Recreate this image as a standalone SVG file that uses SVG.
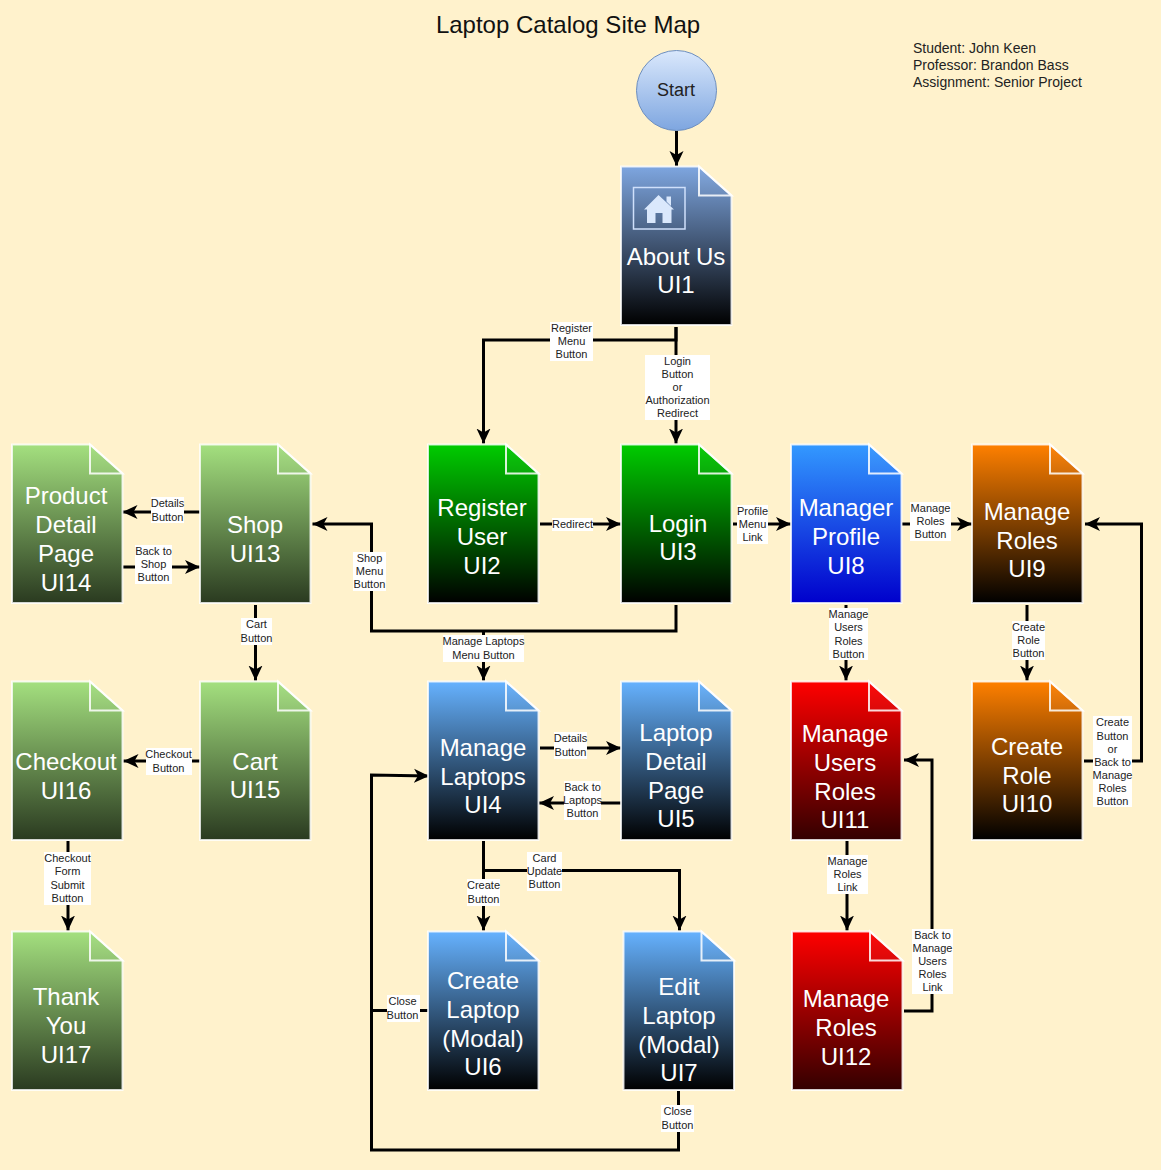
<svg xmlns="http://www.w3.org/2000/svg" width="1161" height="1170" viewBox="0 0 1161 1170">
<style>
text{font-family:"Liberation Sans",Arial,sans-serif;text-anchor:middle}
.t{fill:#fff;font-size:24px}
.l{fill:#222;font-size:11px}
.i{fill:#222;font-size:14px;text-anchor:start}
.c{fill:none;stroke:#000;stroke-width:3;stroke-linejoin:miter}
.a{marker-end:url(#ah)}
.b{fill:#fff}
.d{stroke:#fff;stroke-width:2;stroke-opacity:.8}
.f{fill:#fff;fill-opacity:.04;stroke:#fff;stroke-width:2;stroke-opacity:.85}
</style>
<defs>
<marker id="ah" markerUnits="userSpaceOnUse" markerWidth="16" markerHeight="16" refX="15" refY="8" orient="auto">
<path d="M0,1L15,8L0,15L4,8Z" fill="#000"/>
</marker>
<linearGradient id="gb" x1="0" y1="0" x2="0" y2="1"><stop offset="0" stop-color="#7ea6e0"/><stop offset="1" stop-color="#000"/></linearGradient>
<linearGradient id="gl" x1="0" y1="0" x2="0" y2="1"><stop offset="0" stop-color="#66b2ff"/><stop offset="1" stop-color="#000"/></linearGradient>
<linearGradient id="gg" x1="0" y1="0" x2="0" y2="1"><stop offset="0" stop-color="#a4e07f"/><stop offset="1" stop-color="#2a3a20"/></linearGradient>
<linearGradient id="gv" x1="0" y1="0" x2="0" y2="1"><stop offset="0" stop-color="#00cc00"/><stop offset="1" stop-color="#000"/></linearGradient>
<linearGradient id="gm" x1="0" y1="0" x2="0" y2="1"><stop offset="0" stop-color="#3399ff"/><stop offset="1" stop-color="#0000cc"/></linearGradient>
<linearGradient id="go" x1="0" y1="0" x2="0" y2="1"><stop offset="0" stop-color="#ff8000"/><stop offset="1" stop-color="#000"/></linearGradient>
<linearGradient id="gr" x1="0" y1="0" x2="0" y2="1"><stop offset="0" stop-color="#ff0000"/><stop offset="1" stop-color="#330000"/></linearGradient>
<linearGradient id="gs" x1="0" y1="0" x2="0" y2="1"><stop offset="0" stop-color="#dae8fc"/><stop offset="1" stop-color="#7ea6e0"/></linearGradient>
<path id="doc" d="M0,0H78L110.500,29V158.500H0Z"/>
<path id="fold" d="M78,0L110.500,29H78Z"/>
</defs>
<rect width="1161" height="1170" fill="#fff2cc"/>
<text x="568" y="33" style="font-size:24px" fill="#111">Laptop Catalog Site Map</text>
<g id="info">
<text class="i" x="913" y="53">Student: John Keen</text>
<text class="i" x="913" y="70">Professor: Brandon Bass</text>
<text class="i" x="913" y="87">Assignment: Senior Project</text>
</g>
<g id="connectors">
<path class="c a" d="M676.500,131V166"/>
<path class="c a" d="M676,327V340H483.500V443.500"/>
<path class="c a" d="M676,327V443.500"/>
<path class="c a" d="M540,524H621"/>
<path class="c a" d="M733,524H791"/>
<path class="c a" d="M902,524H972"/>
<path class="c a" d="M1027,605V680.500"/>
<path class="c a" d="M1084,761H1141.500V524H1085"/>
<path class="c a" d="M846,605V680.500"/>
<path class="c a" d="M847,841V930.500"/>
<path class="c a" d="M904,1011H932V760H904"/>
<path class="c a" d="M676,605V631H371.500V524H312.500"/>
<path class="c a" d="M483.500,631V680.500"/>
<path class="c a" d="M200,512H122.500"/>
<path class="c a" d="M123,567H200"/>
<path class="c a" d="M255.500,605V680.500"/>
<path class="c a" d="M200,761H123.500"/>
<path class="c a" d="M68,841V930.500"/>
<path class="c a" d="M540,748H621"/>
<path class="c a" d="M621,803H539"/>
<path class="c a" d="M483.500,841V930.500"/>
<path class="c a" d="M483.500,870.500H679.500V930.500"/>
<path class="c" d="M428,1010.500H371.500V775"/>
<path class="c a" d="M678.500,1091V1150H371.500V775L429,776"/>
<g id="edge-labels">
<rect class="b" x="550" y="322" width="43" height="39"/><text class="l" x="571.500" y="332">Register</text><text class="l" x="571.500" y="345">Menu</text><text class="l" x="571.500" y="358">Button</text>
<rect class="b" x="645" y="355" width="65" height="65"/><text class="l" x="677.500" y="365">Login</text><text class="l" x="677.500" y="378">Button</text><text class="l" x="677.500" y="391">or</text><text class="l" x="677.500" y="404">Authorization</text><text class="l" x="677.500" y="417">Redirect</text>
<rect class="b" x="552" y="518" width="41" height="13"/><text class="l" x="572.500" y="528">Redirect</text>
<rect class="b" x="737" y="505" width="31" height="39"/><text class="l" x="752.500" y="515">Profile</text><text class="l" x="752.500" y="528">Menu</text><text class="l" x="752.500" y="541">Link</text>
<rect class="b" x="910" y="502" width="41" height="39"/><text class="l" x="930.500" y="512">Manage</text><text class="l" x="930.500" y="525">Roles</text><text class="l" x="930.500" y="538">Button</text>
<rect class="b" x="1012" y="621" width="33" height="39"/><text class="l" x="1028.500" y="631">Create</text><text class="l" x="1028.500" y="644">Role</text><text class="l" x="1028.500" y="657">Button</text>
<rect class="b" x="1093" y="716" width="39" height="91"/><text class="l" x="1112.500" y="726">Create</text><text class="l" x="1112.500" y="740">Button</text><text class="l" x="1112.500" y="753">or</text><text class="l" x="1112.500" y="766">Back to</text><text class="l" x="1112.500" y="779">Manage</text><text class="l" x="1112.500" y="792">Roles</text><text class="l" x="1112.500" y="805">Button</text>
<rect class="b" x="829" y="608" width="39" height="52"/><text class="l" x="848.500" y="618">Manage</text><text class="l" x="848.500" y="631">Users</text><text class="l" x="848.500" y="645">Roles</text><text class="l" x="848.500" y="658">Button</text>
<rect class="b" x="827" y="855" width="41" height="39"/><text class="l" x="847.500" y="865">Manage</text><text class="l" x="847.500" y="878">Roles</text><text class="l" x="847.500" y="891">Link</text>
<rect class="b" x="912" y="929" width="41" height="65"/><text class="l" x="932.500" y="939">Back to</text><text class="l" x="932.500" y="952">Manage</text><text class="l" x="932.500" y="965">Users</text><text class="l" x="932.500" y="978">Roles</text><text class="l" x="932.500" y="991">Link</text>
<rect class="b" x="353" y="552" width="33" height="39"/><text class="l" x="369.500" y="562">Shop</text><text class="l" x="369.500" y="575">Menu</text><text class="l" x="369.500" y="588">Button</text>
<rect class="b" x="443" y="635" width="81" height="27"/><text class="l" x="483.500" y="645">Manage Laptops</text><text class="l" x="483.500" y="659">Menu Button</text>
<rect class="b" x="151" y="497" width="33" height="26"/><text class="l" x="167.500" y="507">Details</text><text class="l" x="167.500" y="521">Button</text>
<rect class="b" x="135" y="545" width="37" height="39"/><text class="l" x="153.500" y="555">Back to</text><text class="l" x="153.500" y="568">Shop</text><text class="l" x="153.500" y="581">Button</text>
<rect class="b" x="241" y="618" width="31" height="27"/><text class="l" x="256.500" y="628">Cart</text><text class="l" x="256.500" y="642">Button</text>
<rect class="b" x="146" y="748" width="46" height="27"/><text class="l" x="168.500" y="758">Checkout</text><text class="l" x="168.500" y="772">Button</text>
<rect class="b" x="44" y="852" width="47" height="53"/><text class="l" x="67.500" y="862">Checkout</text><text class="l" x="67.500" y="875">Form</text><text class="l" x="67.500" y="889">Submit</text><text class="l" x="67.500" y="902">Button</text>
<rect class="b" x="554" y="732" width="33" height="27"/><text class="l" x="570.500" y="742">Details</text><text class="l" x="570.500" y="756">Button</text>
<rect class="b" x="564" y="781" width="37" height="39"/><text class="l" x="582.500" y="791">Back to</text><text class="l" x="582.500" y="804">Laptops</text><text class="l" x="582.500" y="817">Button</text>
<rect class="b" x="467" y="879" width="33" height="27"/><text class="l" x="483.500" y="889">Create</text><text class="l" x="483.500" y="903">Button</text>
<rect class="b" x="527" y="852" width="35" height="39"/><text class="l" x="544.500" y="862">Card</text><text class="l" x="544.500" y="875">Update</text><text class="l" x="544.500" y="888">Button</text>
<rect class="b" x="387" y="995" width="33" height="27"/><text class="l" x="402.500" y="1005">Close</text><text class="l" x="402.500" y="1019">Button</text>
<rect class="b" x="661" y="1105" width="33" height="27"/><text class="l" x="677.500" y="1115">Close</text><text class="l" x="677.500" y="1129">Button</text>
</g>
</g>
<g id="start"><circle cx="676.500" cy="90.500" r="40" fill="url(#gs)" stroke="#6c8ebf"/><text x="676" y="96" style="font-size:18px" fill="#222">Start</text></g>
<g id="ui1" transform="translate(621,166.500)"><use href="#doc" fill="url(#gb)" class="d"/><use href="#fold" class="f"/>
<rect x="12.500" y="21" width="51.500" height="41.500" fill="none" stroke="#cfe0fb" stroke-width="1.500"/>
<path d="M37.500,28.500L53,43H50.500V56.500H41.500V46.500H34.500V56.500H26V43H23Z M45.500,30H50V39.500L45.500,35Z" fill="#dae8fc"/>
<text class="t" x="55" y="98">About Us</text><text class="t" x="55" y="126.500">UI1</text></g>
<g id="ui2" transform="translate(428,444.500)"><use href="#doc" fill="url(#gv)" class="d"/><use href="#fold" class="f"/><text class="t" x="54" y="71">Register</text><text class="t" x="54" y="100">User</text><text class="t" x="54" y="129">UI2</text></g>
<g id="ui3" transform="translate(621,444.500)"><use href="#doc" fill="url(#gv)" class="d"/><use href="#fold" class="f"/><text class="t" x="57" y="87">Login</text><text class="t" x="57" y="115">UI3</text></g>
<g id="ui8" transform="translate(791,444.500)"><use href="#doc" fill="url(#gm)" class="d"/><use href="#fold" class="f"/><text class="t" x="55" y="71">Manager</text><text class="t" x="55" y="100">Profile</text><text class="t" x="55" y="129">UI8</text></g>
<g id="ui9" transform="translate(972,444.500)"><use href="#doc" fill="url(#go)" class="d"/><use href="#fold" class="f"/><text class="t" x="55" y="75">Manage</text><text class="t" x="55" y="104">Roles</text><text class="t" x="55" y="132">UI9</text></g>
<g id="ui13" transform="translate(200,444.500)"><use href="#doc" fill="url(#gg)" class="d"/><use href="#fold" class="f"/><text class="t" x="55" y="88">Shop</text><text class="t" x="55" y="117">UI13</text></g>
<g id="ui14" transform="translate(12,444.500)"><use href="#doc" fill="url(#gg)" class="d"/><use href="#fold" class="f"/><text class="t" x="54" y="59">Product</text><text class="t" x="54" y="88">Detail</text><text class="t" x="54" y="117">Page</text><text class="t" x="54" y="146">UI14</text></g>
<g id="ui16" transform="translate(12,681.500)"><use href="#doc" fill="url(#gg)" class="d"/><use href="#fold" class="f"/><text class="t" x="54" y="88">Checkout</text><text class="t" x="54" y="117">UI16</text></g>
<g id="ui15" transform="translate(200,681.500)"><use href="#doc" fill="url(#gg)" class="d"/><use href="#fold" class="f"/><text class="t" x="55" y="88">Cart</text><text class="t" x="55" y="116">UI15</text></g>
<g id="ui4" transform="translate(428,681.500)"><use href="#doc" fill="url(#gl)" class="d"/><use href="#fold" class="f"/><text class="t" x="55" y="74">Manage</text><text class="t" x="55" y="103">Laptops</text><text class="t" x="55" y="131">UI4</text></g>
<g id="ui5" transform="translate(621,681.500)"><use href="#doc" fill="url(#gl)" class="d"/><use href="#fold" class="f"/><text class="t" x="55" y="59">Laptop</text><text class="t" x="55" y="88">Detail</text><text class="t" x="55" y="117">Page</text><text class="t" x="55" y="145">UI5</text></g>
<g id="ui11" transform="translate(791,681.500)"><use href="#doc" fill="url(#gr)" class="d"/><use href="#fold" class="f"/><text class="t" x="54" y="60">Manage</text><text class="t" x="54" y="89">Users</text><text class="t" x="54" y="118">Roles</text><text class="t" x="54" y="146">UI11</text></g>
<g id="ui10" transform="translate(972,681.500)"><use href="#doc" fill="url(#go)" class="d"/><use href="#fold" class="f"/><text class="t" x="55" y="73.500">Create</text><text class="t" x="55" y="102.500">Role</text><text class="t" x="55" y="130.500">UI10</text></g>
<g id="ui17" transform="translate(12,931.500)"><use href="#doc" fill="url(#gg)" class="d"/><use href="#fold" class="f"/><text class="t" x="54" y="73.500">Thank</text><text class="t" x="54" y="102.500">You</text><text class="t" x="54" y="131">UI17</text></g>
<g id="ui6" transform="translate(428,931.500)"><use href="#doc" fill="url(#gl)" class="d"/><use href="#fold" class="f"/><text class="t" x="55" y="57.500">Create</text><text class="t" x="55" y="86.500">Laptop</text><text class="t" x="55" y="115">(Modal)</text><text class="t" x="55" y="143.500">UI6</text></g>
<g id="ui7" transform="translate(623.500,931.500)"><use href="#doc" fill="url(#gl)" class="d"/><use href="#fold" class="f"/><text class="t" x="55.500" y="63.500">Edit</text><text class="t" x="55.500" y="92.500">Laptop</text><text class="t" x="55.500" y="121.500">(Modal)</text><text class="t" x="55.500" y="149.500">UI7</text></g>
<g id="ui12" transform="translate(792,931.500)"><use href="#doc" fill="url(#gr)" class="d"/><use href="#fold" class="f"/><text class="t" x="54" y="75.500">Manage</text><text class="t" x="54" y="104.500">Roles</text><text class="t" x="54" y="133.500">UI12</text></g>
</svg>
